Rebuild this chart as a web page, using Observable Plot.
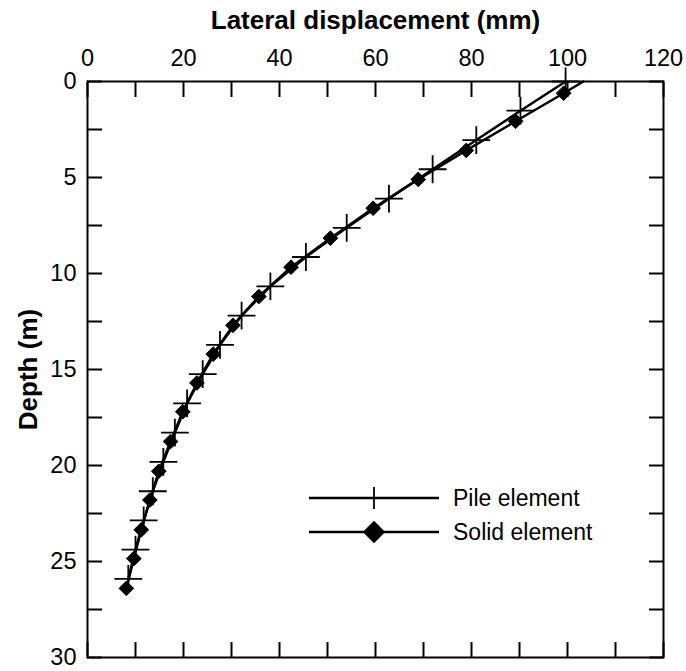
<!DOCTYPE html>
<html>
<head>
<meta charset="utf-8">
<script src="https://cdn.jsdelivr.net/npm/d3@7"></script>
<script src="https://cdn.jsdelivr.net/npm/@observablehq/plot@0.6"></script>
<style>
  html, body { margin: 0; padding: 0; background: #fff; overflow: hidden; }
  #wrap { position: relative; width: 686px; height: 671px; overflow: hidden; font-family: "Liberation Sans", Arial, sans-serif; }
  #wrap > svg { display: block; }
  #legend { position: absolute; left: 300px; top: 480px; }
</style>
</head>
<body>
<div id="wrap"></div>
<script>
// ---- data ----
const seriesNames = ["Pile element", "Solid element"];

const pileDepth = [0, 1.52, 3.05, 4.57, 6.10, 7.62, 9.14, 10.67, 12.19, 13.72, 15.24, 16.76, 18.29, 19.81, 21.34, 22.86, 24.38, 25.91];
const pileDisp  = [99.6, 90.2, 81.0, 71.9, 62.8, 54.0, 45.5, 38.1, 32.1, 27.6, 24.0, 20.75, 18.2, 15.8, 13.6, 11.7, 10.0, 8.5];

const solidDepth = [0.61, 2.07, 3.59, 5.10, 6.60, 8.16, 9.67, 11.2, 12.7, 14.2, 15.7, 17.2, 18.75, 20.3, 21.8, 23.35, 24.85, 26.4];
const solidDisp  = [99.2, 89.2, 78.9, 68.9, 59.5, 50.6, 42.4, 35.7, 30.3, 26.2, 22.8, 19.85, 17.3, 14.85, 13.0, 11.2, 9.65, 8.1];
// solid-element curve is drawn up to the surface (no marker there)
const solidSurfaceDepth = 0;
const solidSurfaceDisp = 103.3;

const xTicks = [0, 10, 20, 30, 40, 50, 60, 70, 80, 90, 100, 110, 120];
const xLabelTicks = [0, 20, 40, 60, 80, 100, 120];
const yTicks = [0, 2.5, 5, 7.5, 10, 12.5, 15, 17.5, 20, 22.5, 25, 27.5, 30];
const yLabelTicks = [0, 5, 10, 15, 20, 25, 30];

const xTitle = "Lateral displacement (mm)";
const yTitle = "Depth (m)";

// ---- build tables ----
const pile = pileDepth.map((d, i) => ({depth: d, disp: pileDisp[i]}));
const solid = solidDepth.map((d, i) => ({depth: d, disp: solidDisp[i]}));
const solidLine = [{depth: solidSurfaceDepth, disp: solidSurfaceDisp}, ...solid];

const FONT = "Liberation Sans, Arial, sans-serif";

const chart = Plot.plot({
  width: 686,
  height: 671,
  marginTop: 81,
  marginLeft: 87,
  marginRight: 23,
  marginBottom: 14,
  style: {fontFamily: FONT, fontSize: "23px", color: "#000", background: "#fff", overflow: "visible"},
  x: {domain: [0, 120]},
  y: {domain: [0, 30], reverse: true},
  marks: [
    // inward ticks on all four sides
    Plot.axisX({anchor: "top", ticks: xTicks, tickSize: -15, tickFormat: () => "", strokeWidth: 2, label: null}),
    Plot.axisX({anchor: "bottom", ticks: xTicks, tickSize: -15, tickFormat: () => "", strokeWidth: 2, label: null}),
    Plot.axisY({anchor: "left", ticks: yTicks, tickSize: -15, tickFormat: () => "", strokeWidth: 2, label: null}),
    Plot.axisY({anchor: "right", ticks: yTicks, tickSize: -15, tickFormat: () => "", strokeWidth: 2, label: null}),
    // tick labels
    Plot.axisX({anchor: "top", ticks: xLabelTicks, tickSize: 0, tickPadding: 16, fontSize: 23.5, label: null}),
    Plot.axisY({anchor: "left", ticks: yLabelTicks, tickSize: 0, tickPadding: 11, fontSize: 23.5, label: null}),
    // titles
    Plot.text([xTitle], {frameAnchor: "top", lineAnchor: "middle", textAnchor: "middle", dy: -61, fontWeight: "bold", fontSize: 26, fill: "#000"}),
    Plot.text([yTitle], {frameAnchor: "left", lineAnchor: "middle", textAnchor: "middle", dx: -59, rotate: -90, fontWeight: "bold", fontSize: 26, fill: "#000"}),
    // data
    Plot.line(pile, {x: "disp", y: "depth", stroke: "#000", strokeWidth: 2.5}),
    Plot.line(solidLine, {x: "disp", y: "depth", stroke: "#000", strokeWidth: 2.5}),
    Plot.dot(pile, {x: "disp", y: "depth", symbol: "plus", r: 9, stroke: "#000", strokeWidth: 1.8}),
    Plot.dot(solid, {x: "disp", y: "depth", symbol: "diamond2", r: 6.6, fill: "#000", stroke: "#000", strokeWidth: 1}),
    Plot.frame({stroke: "#000", strokeWidth: 2})
  ]
});

const wrap = document.getElementById("wrap");
wrap.appendChild(chart);

// ---- legend (inside the frame, lower right) ----
const lg = d3.select(wrap).append("svg")
  .attr("id", "legend")
  .attr("width", 340).attr("height", 75)
  .style("font-family", FONT);
seriesNames.forEach((name, i) => {
  const y = 18 + i * 34;
  const g = lg.append("g");
  g.append("line").attr("x1", 9).attr("x2", 139).attr("y1", y).attr("y2", y)
    .attr("stroke", "#000").attr("stroke-width", 2.5);
  if (i === 0) {
    g.append("line").attr("x1", 74).attr("x2", 74).attr("y1", y - 11).attr("y2", y + 11)
      .attr("stroke", "#000").attr("stroke-width", 1.8);
  } else {
    g.append("path").attr("d", d3.symbol(d3.symbolDiamond2, 320)())
      .attr("transform", `translate(74,${y})`).attr("fill", "#000");
  }
  g.append("text").attr("x", 153).attr("y", y).attr("dy", "0.35em")
    .attr("font-size", 23).attr("fill", "#000").text(name);
});
</script>
</body>
</html>
